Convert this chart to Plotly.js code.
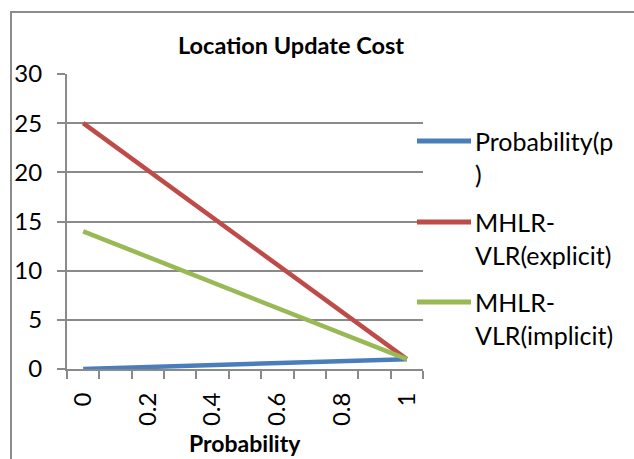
<!DOCTYPE html>
<html>
<head>
<meta charset="utf-8">
<script src="https://cdn.plot.ly/plotly-3.0.1.min.js"></script>
<style>
  html, body { margin: 0; padding: 0; background: #fff; }
  #chart { width: 634px; height: 459px; }
</style>
</head>
<body>
<div id="chart"></div>
<script>
// Probability values along the category axis
const probability = [0, 0.1, 0.2, 0.3, 0.4, 0.5, 0.6, 0.7, 0.8, 0.9, 1];

// Series values (location update cost)
const seriesProbability = [0, 0.1, 0.2, 0.3, 0.4, 0.5, 0.6, 0.7, 0.8, 0.9, 1];
const seriesExplicit = [25, 22.6, 20.2, 17.8, 15.4, 13, 10.6, 8.2, 5.8, 3.4, 1];
const seriesImplicit = [14, 12.7, 11.4, 10.1, 8.8, 7.5, 6.2, 4.9, 3.6, 2.3, 1];

const seriesNames = ["Probability(p\n)", "MHLR-\nVLR(explicit)", "MHLR-\nVLR(implicit)"];
const seriesColors = ["#4A7EBB", "#BE4B48", "#98B954"];

const xTickVals = [0, 0.2, 0.4, 0.6, 0.8, 1];
const xTickText = ["0", "0.2", "0.4", "0.6", "0.8", "1"];

const W = 634, H = 459;
const M = { l: 67, r: 211, t: 74, b: 90 };
const PW = W - M.l - M.r, PH = H - M.t - M.b;
const px = x => (x - M.l) / PW;          // pixel -> paper x
const py = y => (H - M.b - y) / PH;      // pixel -> paper y

const FONT = "Lato, 'DejaVu Sans', sans-serif";
const GRID = "#8a8a8a";

const values = [seriesProbability, seriesExplicit, seriesImplicit];
const traces = values.map((v, i) => ({
  type: "scatter",
  mode: "lines",
  x: probability,
  y: v,
  name: seriesNames[i].replace("\n", ""),
  line: { color: seriesColors[i], width: 4.5 },
  hoverinfo: "skip"
}));

// Legend drawn at the right of the plot
const shapes = [];
const annotations = [];
const legendY = [141, 222, 302];
seriesNames.forEach((name, i) => {
  shapes.push({
    type: "line", xref: "paper", yref: "paper",
    x0: px(417), x1: px(471), y0: py(legendY[i]), y1: py(legendY[i]),
    line: { color: seriesColors[i], width: 5 }
  });
  name.split("\n").forEach((part, k) => {
    annotations.push({
      xref: "paper", yref: "paper",
      x: px(473), y: py(legendY[i] + k * 33),
      xanchor: "left", yanchor: "middle",
      text: part, showarrow: false,
      font: { family: FONT, size: 25, color: "#000" }
    });
  });
});

// Axis title below the rotated tick labels
annotations.push({
  xref: "paper", yref: "paper",
  x: px(245), y: py(443),
  xanchor: "center", yanchor: "middle",
  text: "<b>Probability</b>", showarrow: false,
  font: { family: FONT, size: 23, color: "#000" }
});

// Chart frame (left and top edges)
shapes.push({
  type: "line", xref: "paper", yref: "paper",
  x0: px(11), x1: px(11), y0: py(12), y1: py(470),
  line: { color: "#8c8c8c", width: 2 }
});
shapes.push({
  type: "line", xref: "paper", yref: "paper",
  x0: px(10), x1: px(640), y0: py(12), y1: py(12),
  line: { color: "#8c8c8c", width: 2 }
});

const layout = {
  width: W, height: H,
  margin: M,
  paper_bgcolor: "#fff",
  plot_bgcolor: "#fff",
  showlegend: false,
  font: { family: FONT, color: "#000" },
  title: {
    text: "<b>Location Update Cost</b>",
    x: 291 / W, xanchor: "center",
    y: 1 - 46 / H, yanchor: "middle",
    font: { family: FONT, size: 23.5, color: "#000" }
  },
  xaxis: {
    range: [-0.05, 1.05],
    tickmode: "array",
    tickvals: xTickVals,
    ticktext: xTickText,
    tickangle: -90,
    ticks: "",
    showgrid: false,
    zeroline: false,
    showline: true,
    linecolor: GRID,
    linewidth: 2,
    tickfont: { family: FONT, size: 24, color: "#000" },
    ticklabelstandoff: 12,
    minor: { tick0: -0.05, dtick: 0.1, ticks: "outside", ticklen: 8, tickcolor: GRID, tickwidth: 2, showgrid: false }
  },
  yaxis: {
    range: [0, 30],
    dtick: 5,
    ticks: "outside",
    ticklen: 8,
    tickcolor: GRID,
    tickwidth: 2,
    showgrid: true,
    gridcolor: GRID,
    gridwidth: 2,
    zeroline: false,
    showline: true,
    linecolor: GRID,
    linewidth: 2,
    tickfont: { family: FONT, size: 24, color: "#000" },
    ticklabelstandoff: 10
  },
  shapes: shapes,
  annotations: annotations
};

Plotly.newPlot("chart", traces, layout, { displayModeBar: false, staticPlot: true });
</script>
</body>
</html>
